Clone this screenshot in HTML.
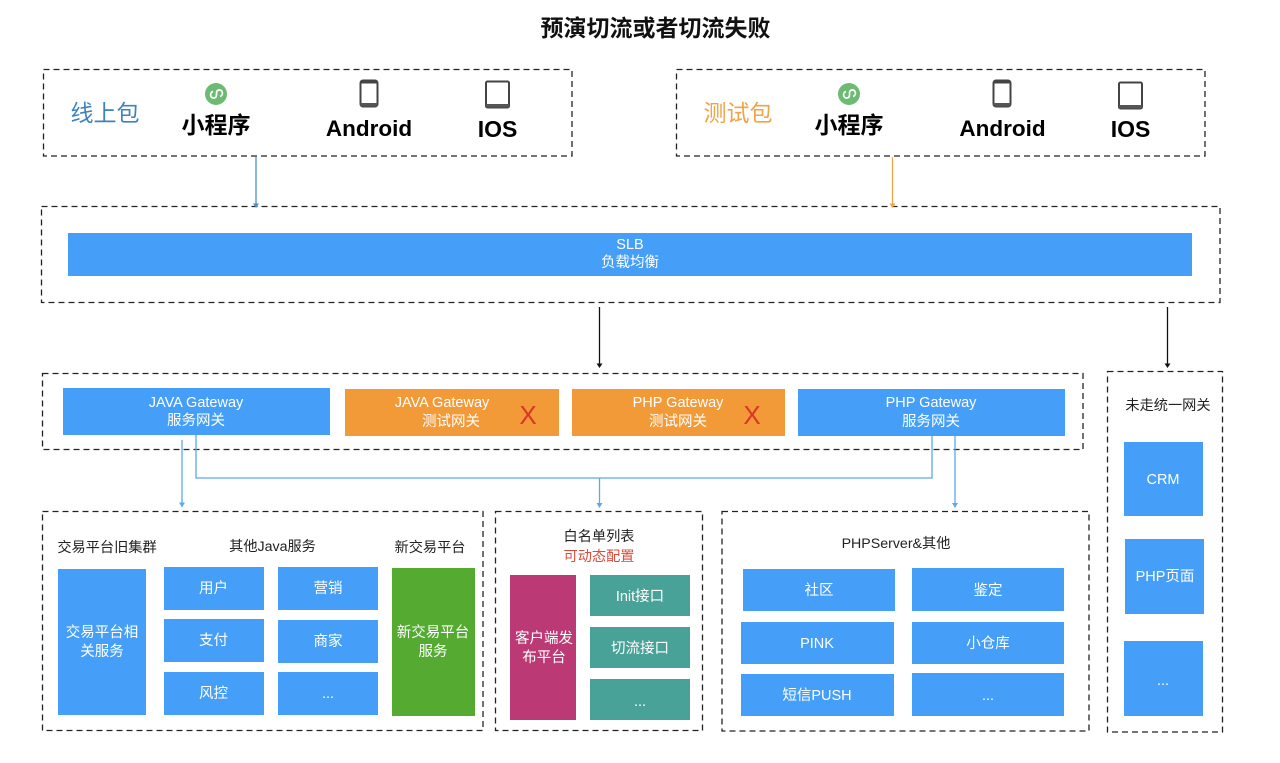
<!DOCTYPE html>
<html><head><meta charset="utf-8">
<style>
html,body{margin:0;padding:0;background:#fff;width:1280px;height:763px;overflow:hidden}
svg{display:block;filter:blur(0.35px)}
text{font-family:"Liberation Sans","Noto Sans CJK SC",sans-serif;text-anchor:middle}
.w{fill:#fff;font-size:14.5px}
.k{fill:#222;font-size:14.2px}
.b{fill:#000;font-weight:bold;font-size:23px}
.b2{fill:#000;font-weight:bold;font-size:22.5px}
.d{fill:none;stroke:#222;stroke-width:1.3;stroke-dasharray:6 4}
.bl{fill:#459ff8}
.or{fill:#f29a38}
.te{fill:#49a297}
.c{fill:none;stroke:#5aa9ee;stroke-width:1.3}
</style></head><body>
<svg width="1280" height="763" viewBox="0 0 1280 763" xmlns="http://www.w3.org/2000/svg">
<text x="655.500" y="36" style="font-size:23px;font-weight:bold" fill="#111">预演切流或者切流失败</text>

<!-- dashed groups -->
<rect class="d" x="43.5" y="69.5" width="528.500" height="86.500"/>
<rect class="d" x="676.500" y="69.5" width="528.500" height="86.500"/>
<rect class="d" x="41.500" y="206.500" width="1178.500" height="96"/>
<rect class="d" x="42.500" y="373.500" width="1040.500" height="76"/>
<rect class="d" x="42.500" y="511.500" width="440.500" height="219"/>
<rect class="d" x="495.500" y="511.500" width="207" height="219"/>
<rect class="d" x="722" y="511.500" width="367" height="219.500"/>
<rect class="d" x="1107.500" y="371.500" width="115" height="360.500"/>

<!-- left package -->
<text x="105" y="121" style="font-size:23px" fill="#3f83bd">线上包</text>
<circle cx="216" cy="94" r="11" fill="#6dbb72"/>
<path d="M213 91.500c-3.500 1-3 6.500 .5 6.500 3 0 3-2 3-4s0-4 3-4c3.500 0 4 5.500 .5 6.500" fill="none" stroke="#fff" stroke-width="1.700"/>
<text class="b" x="216" y="133">小程序</text>
<rect x="360.500" y="80.500" width="17" height="26" rx="2.500" fill="#fff" stroke="#444" stroke-width="2"/>
<rect x="360.500" y="80.500" width="17" height="3" fill="#444"/><rect x="360.500" y="103" width="17" height="3.500" fill="#555"/>
<text class="b2" x="369" y="136">Android</text>
<rect x="486" y="81.500" width="23" height="26" rx="1.500" fill="#fff" stroke="#444" stroke-width="2"/>
<rect x="486" y="104" width="23" height="3.500" fill="#555"/>
<text class="b" x="497.500" y="137">IOS</text>

<!-- right package -->
<text x="738" y="121" style="font-size:23px" fill="#f0a448">测试包</text>
<circle cx="849" cy="94" r="11" fill="#6dbb72"/>
<path d="M846 91.500c-3.500 1-3 6.500 .5 6.500 3 0 3-2 3-4s0-4 3-4c3.500 0 4 5.500 .5 6.500" fill="none" stroke="#fff" stroke-width="1.700"/>
<text class="b" x="849" y="133">小程序</text>
<rect x="993.500" y="80.500" width="17" height="26" rx="2.500" fill="#fff" stroke="#444" stroke-width="2"/>
<rect x="993.500" y="80.500" width="17" height="3" fill="#444"/><rect x="993.500" y="103" width="17" height="3.500" fill="#555"/>
<text class="b2" x="1002.500" y="136">Android</text>
<rect x="1119" y="82.500" width="23" height="26" rx="1.500" fill="#fff" stroke="#444" stroke-width="2"/>
<rect x="1119" y="105" width="23" height="3.500" fill="#555"/>
<text class="b" x="1130.500" y="137">IOS</text>

<!-- SLB -->
<rect class="bl" x="68" y="233" width="1124" height="43"/>
<text class="w" x="630" y="249">SLB</text>
<text class="w" x="630" y="267">负载均衡</text>

<!-- top connectors -->
<path d="M256 157V205" stroke="#4a8fca" stroke-width="1.300" fill="none"/>
<path d="M253 203.500h6l-3 4.500z" fill="#4a8fca"/>
<path d="M892.500 157V205" stroke="#f0a448" stroke-width="1.300" fill="none"/>
<path d="M889.500 203.500h6l-3 4.500z" fill="#f0a448"/>
<path d="M599.500 307V365" stroke="#111" stroke-width="1.300" fill="none"/>
<path d="M596.500 363.500h6l-3 4.500z" fill="#111"/>
<path d="M1167.500 307V365" stroke="#111" stroke-width="1.300" fill="none"/>
<path d="M1164.500 363.500h6l-3 4.500z" fill="#111"/>

<!-- gateways -->
<rect class="bl" x="63" y="388" width="267" height="47"/>
<text class="w" x="196" y="407">JAVA Gateway</text>
<text class="w" x="196" y="425">服务网关</text>
<rect class="or" x="345" y="389" width="214" height="47"/>
<text class="w" x="442" y="407">JAVA Gateway</text>
<text class="w" x="451" y="426">测试网关</text>
<text x="528" y="424" style="font-size:26px" fill="#d9352a">X</text>
<rect class="or" x="572" y="389" width="213" height="47"/>
<text class="w" x="678" y="407">PHP Gateway</text>
<text class="w" x="678" y="426">测试网关</text>
<text x="752" y="424" style="font-size:26px" fill="#d9352a">X</text>
<rect class="bl" x="798" y="389" width="267" height="47"/>
<text class="w" x="931" y="407">PHP Gateway</text>
<text class="w" x="931" y="426">服务网关</text>

<!-- gateway connectors -->
<path class="c" d="M182 440V503"/>
<path d="M179 502.500h6l-3 5z" fill="#5aa9ee"/>
<path class="c" d="M196 435V478H932V436"/>
<path class="c" d="M599.500 478V504"/>
<path d="M596.500 503h6l-3 5z" fill="#5aa9ee"/>
<path class="c" d="M955 436V504"/>
<path d="M952 503h6l-3 5z" fill="#5aa9ee"/>

<!-- Java group -->
<text class="k" x="107" y="552">交易平台旧集群</text>
<text class="k" x="272.500" y="551">其他Java服务</text>
<text class="k" x="430" y="552">新交易平台</text>
<rect class="bl" x="58" y="569" width="88" height="146"/>
<text class="w" x="102" y="637">交易平台相</text>
<text class="w" x="102" y="656">关服务</text>
<rect class="bl" x="164" y="567" width="100" height="43"/><text class="w" x="213.500" y="593">用户</text>
<rect class="bl" x="278" y="567" width="100" height="43"/><text class="w" x="328" y="593">营销</text>
<rect class="bl" x="164" y="619" width="100" height="43"/><text class="w" x="213.500" y="645">支付</text>
<rect class="bl" x="278" y="620" width="100" height="43"/><text class="w" x="328" y="646">商家</text>
<rect class="bl" x="164" y="672" width="100" height="43"/><text class="w" x="213.500" y="698">风控</text>
<rect class="bl" x="278" y="672" width="100" height="43"/><text class="w" x="328" y="698">...</text>
<rect x="392" y="568" width="83" height="148" fill="#55ab32"/>
<text class="w" x="433" y="637">新交易平台</text>
<text class="w" x="433" y="656">服务</text>

<!-- whitelist group -->
<text class="k" x="599" y="541">白名单列表</text>
<text class="k" x="599" y="561" style="fill:#dd4a3c">可动态配置</text>
<rect x="510" y="575" width="66" height="145" fill="#bb3a76"/>
<text class="w" x="544" y="643">客户端发</text>
<text class="w" x="544" y="662">布平台</text>
<rect class="te" x="590" y="575" width="100" height="41"/><text class="w" x="640" y="601">Init接口</text>
<rect class="te" x="590" y="627" width="100" height="41"/><text class="w" x="640" y="653">切流接口</text>
<rect class="te" x="590" y="679" width="100" height="41"/><text class="w" x="640" y="706">...</text>

<!-- PHP group -->
<text class="k" x="896" y="548">PHPServer&amp;其他</text>
<rect class="bl" x="743" y="569" width="152" height="42"/><text class="w" x="819" y="595">社区</text>
<rect class="bl" x="912" y="568" width="152" height="43"/><text class="w" x="988" y="595">鉴定</text>
<rect class="bl" x="741" y="622" width="153" height="42"/><text class="w" x="817" y="648">PINK</text>
<rect class="bl" x="912" y="622" width="152" height="42"/><text class="w" x="988" y="648">小仓库</text>
<rect class="bl" x="741" y="674" width="153" height="42"/><text class="w" x="817" y="700">短信PUSH</text>
<rect class="bl" x="912" y="673" width="152" height="43"/><text class="w" x="988" y="700">...</text>

<!-- right group -->
<text class="k" x="1168" y="410">未走统一网关</text>
<rect class="bl" x="1124" y="442" width="79" height="74"/><text class="w" x="1163" y="484">CRM</text>
<rect class="bl" x="1125" y="539" width="79" height="75"/><text class="w" x="1165" y="581">PHP页面</text>
<rect class="bl" x="1124" y="641" width="79" height="75"/><text class="w" x="1163" y="685">...</text>
</svg>
</body></html>
